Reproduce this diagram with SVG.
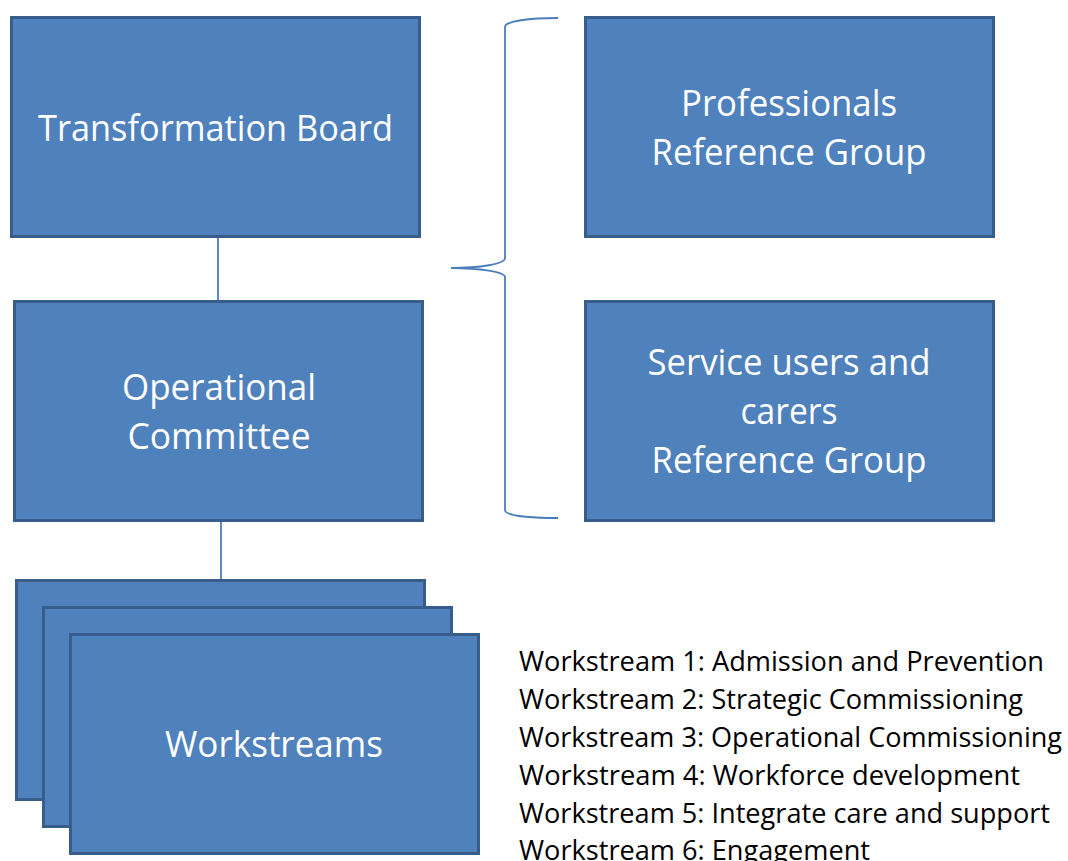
<svg xmlns="http://www.w3.org/2000/svg" width="1068" height="861" viewBox="0 0 1068 861">
<style>
.box{fill:#4F81BD;stroke:#385D8A;stroke-width:3}
.lbl{font-family:"Open Sans","DejaVu Sans",sans-serif;font-size:36px;fill:#FFFFFF;text-anchor:middle}
.lst{font-family:"Open Sans","DejaVu Sans",sans-serif;font-size:27px;fill:#000000}
.con{fill:none;stroke:#4A7EBB;stroke-width:1.8}
</style>
<rect width="1068" height="861" fill="#FFFFFF"/>
<g id="connectors">
<line class="con" x1="218" y1="238" x2="218" y2="300"/>
<line class="con" x1="221" y1="521" x2="221" y2="579"/>
<path id="brace" class="con" d="M558,18 C530,18 505,21 505,27 L505,258 C505,264 480,268 451,268 C480,268 505,272 505,277 L505,510 C505,516 530,518 558,518"/>
</g>
<g id="transformation-board">
<rect class="box" x="11.5" y="17.5" width="408" height="219"/>
<text class="lbl" x="215.5" y="141" textLength="355" lengthAdjust="spacingAndGlyphs">Transformation Board</text>
</g>
<g id="professionals-reference-group">
<rect class="box" x="585.5" y="17.5" width="408" height="219"/>
<text class="lbl" x="789" y="116" textLength="216" lengthAdjust="spacingAndGlyphs">Professionals</text>
<text class="lbl" x="789" y="165" textLength="275" lengthAdjust="spacingAndGlyphs">Reference Group</text>
</g>
<g id="operational-committee">
<rect class="box" x="14.5" y="301.5" width="408" height="219"/>
<text class="lbl" x="219" y="400" textLength="194" lengthAdjust="spacingAndGlyphs">Operational</text>
<text class="lbl" x="219" y="449" textLength="183" lengthAdjust="spacingAndGlyphs">Committee</text>
</g>
<g id="service-users-reference-group">
<rect class="box" x="585.5" y="301.5" width="408" height="219"/>
<text class="lbl" x="789" y="375" textLength="283" lengthAdjust="spacingAndGlyphs">Service users and</text>
<text class="lbl" x="789" y="424" textLength="97" lengthAdjust="spacingAndGlyphs">carers</text>
<text class="lbl" x="789" y="473" textLength="275" lengthAdjust="spacingAndGlyphs">Reference Group</text>
</g>
<g id="workstreams">
<rect class="box" x="16.5" y="580.5" width="408" height="219"/>
<rect class="box" x="43.5" y="607.5" width="408" height="219"/>
<rect class="box" x="70.5" y="634.5" width="408" height="219"/>
<text class="lbl" x="274" y="757" textLength="218" lengthAdjust="spacingAndGlyphs">Workstreams</text>
</g>
<g id="workstream-list">
<text class="lst" x="519" y="671" textLength="525" lengthAdjust="spacingAndGlyphs">Workstream 1: Admission and Prevention</text>
<text class="lst" x="519" y="709" textLength="504" lengthAdjust="spacingAndGlyphs">Workstream 2: Strategic Commissioning</text>
<text class="lst" x="519" y="747" textLength="543" lengthAdjust="spacingAndGlyphs">Workstream 3: Operational Commissioning</text>
<text class="lst" x="519" y="785" textLength="501" lengthAdjust="spacingAndGlyphs">Workstream 4: Workforce development</text>
<text class="lst" x="519" y="823" textLength="531" lengthAdjust="spacingAndGlyphs">Workstream 5: Integrate care and support</text>
<text class="lst" x="519" y="860" textLength="351" lengthAdjust="spacingAndGlyphs">Workstream 6: Engagement</text>
</g>
</svg>
